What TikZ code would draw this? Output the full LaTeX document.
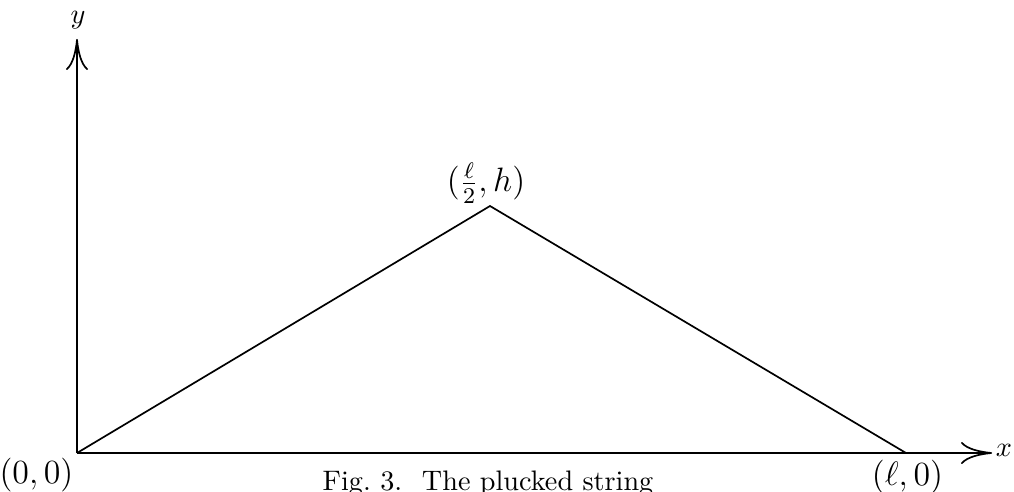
\documentclass[tikz,border=0pt]{standalone}
\usetikzlibrary{arrows.meta}
\begin{document}
\begin{tikzpicture}[x=0.3546pt,y=-0.3546pt,
  axis/.style={line width=0.6pt,-{Computer Modern Rightarrow[length=11pt,width=7.8pt]}},
  string/.style={line width=0.6pt},
  lbl/.style={inner sep=0pt},
  big/.style={lbl,font=\fontsize{12}{14}\selectfont}]
\useasboundingbox (0,0) rectangle (1014,492);
\coordinate (O) at (77,453);
\coordinate (P) at (490,206);
\coordinate (L) at (906,453);
\coordinate (XE) at (992,453);
\coordinate (YE) at (77,39);
\draw[axis] (O) -- (XE);
\draw[axis] (O) -- (YE);
\draw[string] (O) -- (P) -- (L);
\node[lbl] (ylab) at (78,20) {$y$};
\node[lbl] (xlab) at (1004,450) {$x$};
\node[big] (olab) at (36.5,475) {$(0,0)$};
\node[big] (llab) at (907.5,477) {$(\ell,0)$};
\node[big] (plab) at (486,183) {$\bigl(\frac{\ell}{2},h\bigr)$};
\node[lbl] (cap) at (488,484) {Fig.~3.\hspace{0.7em}The plucked string};
\end{tikzpicture}
\end{document}
